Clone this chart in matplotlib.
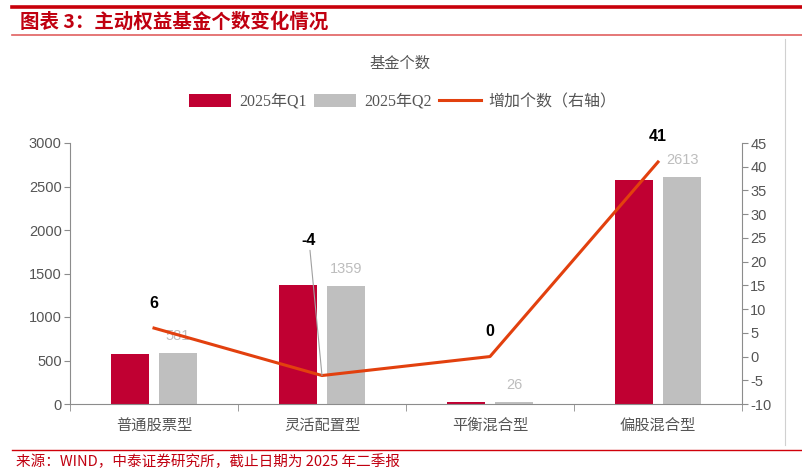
import matplotlib.pyplot as plt
import numpy as np
from matplotlib.lines import Line2D

# data
categories = ['普通股票型', '灵活配置型', '平衡混合型', '偏股混合型']
q1_counts = [575, 1363, 26, 2572]
q2_counts = [581, 1359, 26, 2613]
increase = [6, -4, 0, 41]
left_ticks = [0, 500, 1000, 1500, 2000, 2500, 3000]
right_ticks = list(range(-10, 50, 5))

RED = '#C00032'
GRAY = '#BFBFBF'
LINE = '#E2400E'
AX = '#8C8C8C'
CJK = ['Noto Sans CJK SC', 'DejaVu Sans']
SERIF = ['Liberation Serif', 'Noto Sans CJK SC']
SANS = ['Liberation Sans', 'DejaVu Sans']
plt.rcParams['axes.unicode_minus'] = False

fig = plt.figure(figsize=(8.03, 4.74), dpi=100)
W, H = 803, 474

# header / footer decorations
fig.add_artist(Line2D([12 / W, 1], [1 - 7 / H] * 2, color='#C8000A', lw=2.6))
fig.add_artist(Line2D([12 / W, 1], [1 - 35 / H] * 2, color='#E06060', lw=1.2))
fig.add_artist(Line2D([12 / W, 1], [1 - 450 / H] * 2, color='#D0000A', lw=1.0))
fig.add_artist(Line2D([785 / W] * 2, [1 - 39 / H, 1 - 445 / H], color='#D0D0D0', lw=0.8))
fig.text(20 / W, 1 - 22 / H, '图表 3：主动权益基金个数变化情况', color='#C00010',
         fontsize=14, fontweight='bold', style='italic', family=CJK, va='center')
fig.text(16 / W, 1 - 462 / H, '来源：WIND，中泰证券研究所，截止日期为 2025 年二季报',
         color='#C00010', fontsize=10.5, family=CJK, va='center')

ax = fig.add_axes([70 / W, 1 - 404 / H, 672 / W, 261 / H])
ax2 = ax.twinx()

x = np.arange(len(categories))
bw = 0.226
off = 0.143
b1 = ax.bar(x - off, q1_counts, bw, color=RED, label='2025年Q1')
b2 = ax.bar(x + off, q2_counts, bw, color=GRAY, label='2025年Q2')
ln, = ax2.plot(x, increase, color=LINE, lw=2.2, label='增加个数（右轴）')

ax.set_xlim(-0.5, len(categories) - 0.5)
ax.set_ylim(0, 3000)
ax.set_yticks(left_ticks)
ax2.set_ylim(-10, 45)
ax2.set_yticks(right_ticks)

ax.set_xticks(x)
ax.set_xticklabels(categories, family=CJK, fontsize=11, color='#555555')
ax.tick_params(axis='x', length=0, pad=9)
ax.set_xticks(np.arange(-0.5, len(categories)), minor=True)
ax.tick_params(axis='x', which='minor', length=5, color=AX, direction='out')

for a in (ax, ax2):
    for s in a.spines.values():
        s.set_color(AX)
    a.spines['top'].set_visible(False)
    a.tick_params(axis='y', length=4, color=AX, labelcolor='#555555', labelsize=10.5)
    for t in a.get_yticklabels():
        t.set_family(SANS)
ax2.spines['left'].set_visible(False)
ax2.spines['bottom'].set_visible(False)
ax.spines['right'].set_visible(False)
ax.tick_params(axis='y', pad=2)
ax2.tick_params(axis='y', pad=2)

# Q2 value labels
for xi, v in zip(x, q2_counts):
    ax.annotate(str(v), (xi + off, v), xytext=(0, 17), textcoords='offset pixels',
                ha='center', va='center', color='#BDBDBD', fontsize=10.5, family=SANS)

# increase labels
for xi, v in zip(x, increase):
    if v == -4:
        ax2.annotate(str(v), (xi, v), xytext=(-13, 128), textcoords='offset pixels',
                     ha='center', va='bottom', color='black', fontsize=11.5,
                     fontweight='bold', family=SANS,
                     arrowprops=dict(arrowstyle='-', color='#A0A0A0', lw=0.8,
                                     shrinkA=0, shrinkB=0))
    else:
        ax2.annotate(str(v), (xi, v), xytext=(0, 25), textcoords='offset pixels',
                     ha='center', va='center', color='black', fontsize=11.5,
                     fontweight='bold', family=SANS)

fig.text(400 / W, 1 - 63 / H, '基金个数', color='#555555', fontsize=11,
         family=CJK, ha='center', va='center')
leg = fig.legend([b1, b2, ln], ['2025年Q1', '2025年Q2', '增加个数（右轴）'],
                 loc='center', bbox_to_anchor=(403 / W, 1 - 102 / H), ncol=3,
                 frameon=False, handlelength=2.6, handleheight=0.8,
                 columnspacing=0.5, handletextpad=0.5,
                 prop={'family': SERIF, 'size': 11.5})
for t in leg.get_texts():
    t.set_color('#555555')

fig.savefig('out.png', dpi=100)
